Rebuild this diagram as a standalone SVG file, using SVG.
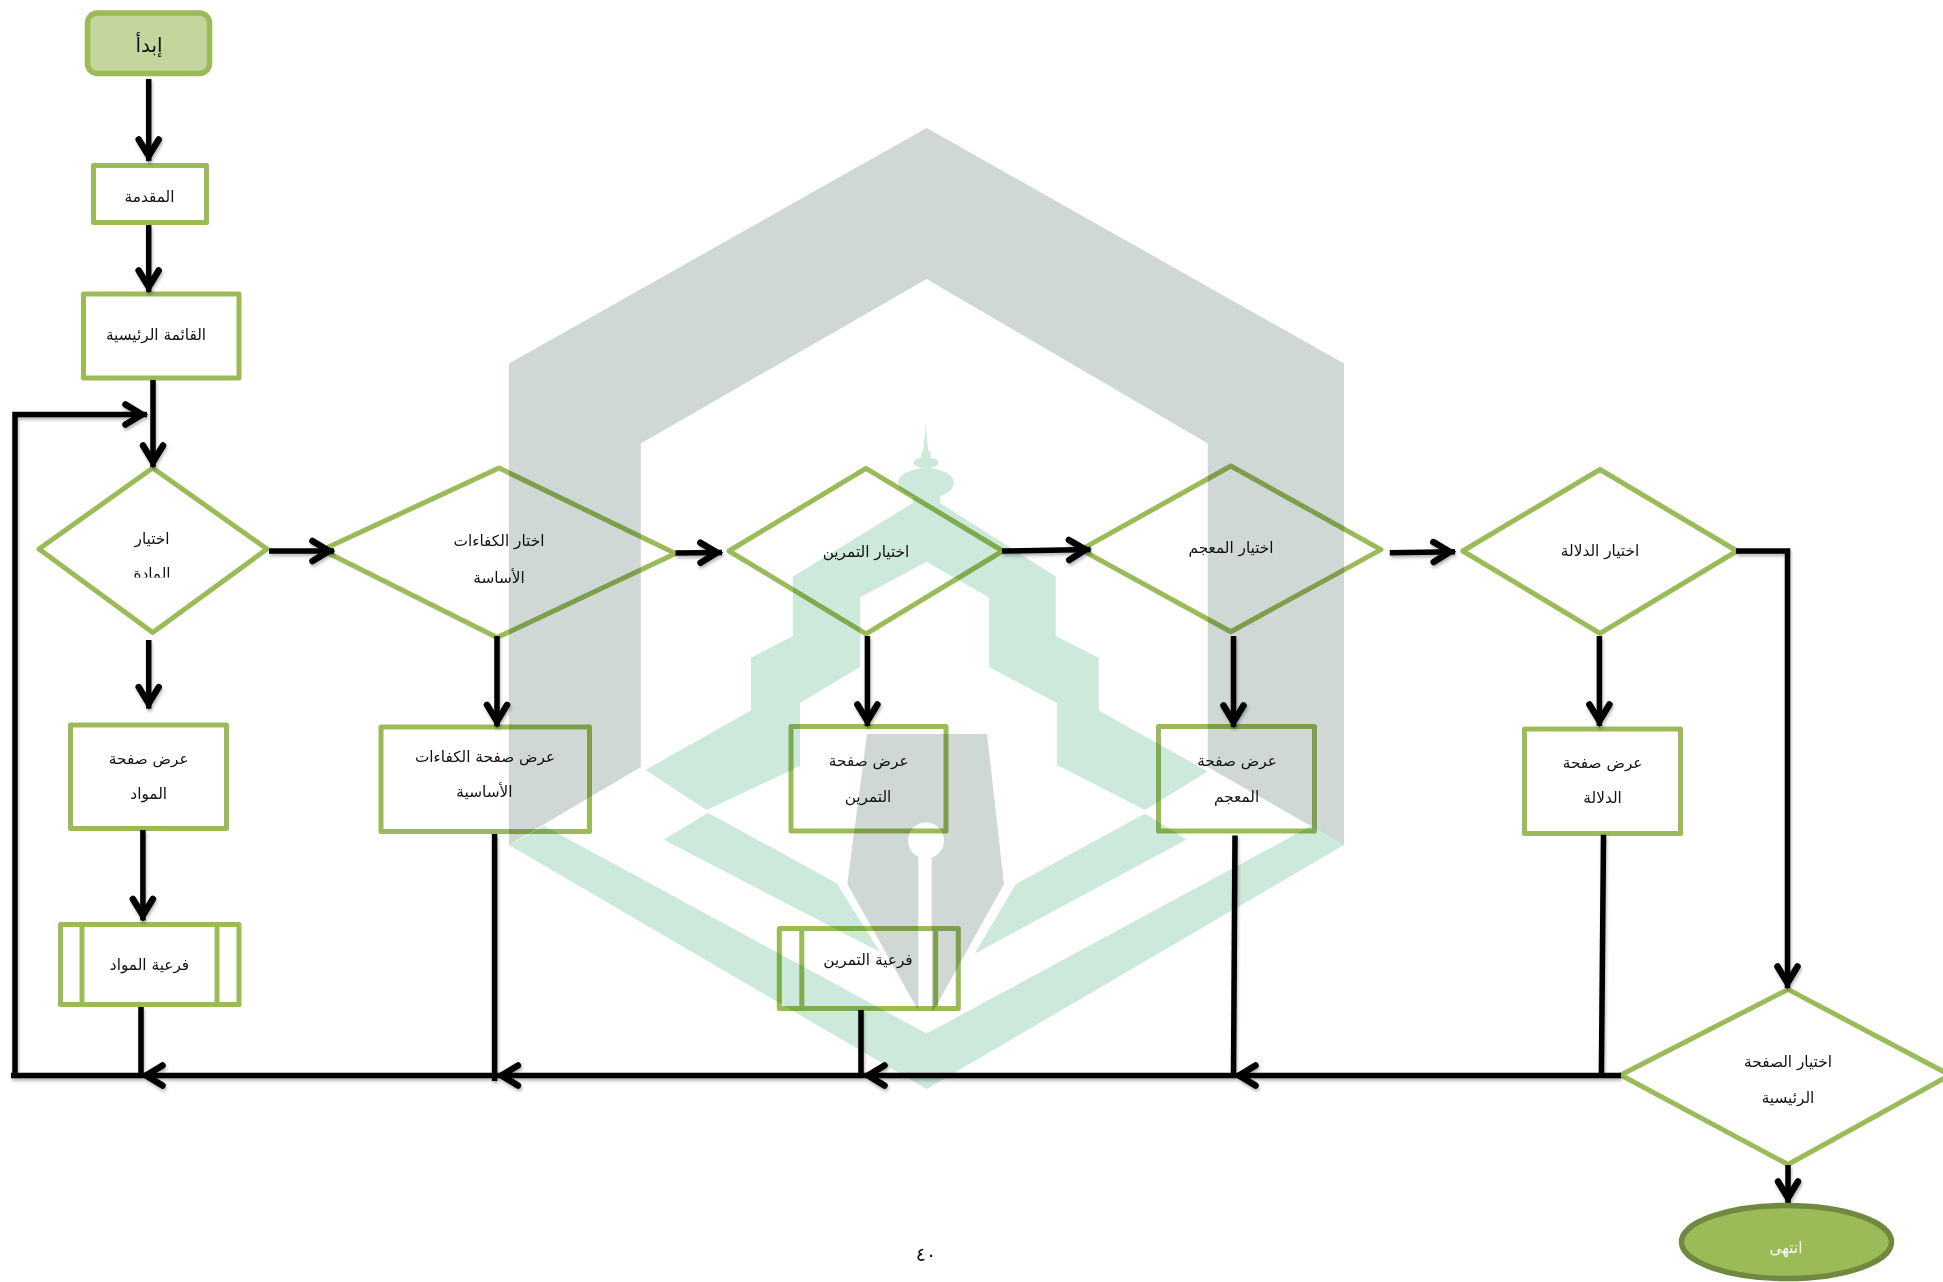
<svg xmlns="http://www.w3.org/2000/svg" width="1943" height="1282" viewBox="0 0 1943 1282">
<style>
.s{fill:none;stroke:#9bbb59;stroke-width:5;stroke-linejoin:round}
.node{mix-blend-mode:multiply}
.t{font-family:"DejaVu Sans",sans-serif;font-size:15.3px;fill:#111;text-anchor:middle;dominant-baseline:central}
.c path,.c line,.c polyline{fill:none;stroke:#000;stroke-width:5.500}
.g{fill:#cfd8d5}.e{fill:#cde9db}
</style>
<defs>
<marker id="a" markerUnits="userSpaceOnUse" markerWidth="32" markerHeight="32" refX="5" refY="0" viewBox="-24 -16 32 32" orient="auto" overflow="visible"><path d="M-16.500,-10L0,0L-16.500,10" fill="none" stroke="#000" stroke-width="6.500" stroke-linecap="round" stroke-linejoin="miter"/></marker>
<filter id="sh" x="-5%" y="-5%" width="110%" height="110%"><feDropShadow dx="1" dy="2.500" stdDeviation="1.500" flood-color="#000" flood-opacity=".28"/></filter>
<clipPath id="cl"><rect x="100" y="520" width="110" height="57.500"/></clipPath>
</defs>
<rect width="1943" height="1282" fill="#fff"/>
<g id="logo">
<path class="e" d="M509,845L926.600,1089L1344,845L1311,826L926.600,1033.600L544,826Z"/>
<path class="g" d="M509,363.500L926.600,128L1344,363.500V845L1207.800,767V443.500L926.600,279L640.800,443.500V767L509,845Z"/>
<path class="e" d="M913,503L793,576.600V636L750.900,657.800V710.400L645.300,770L706.700,810L800,766V703L860,667V597.600L926.500,561.800L989,597.600V667L1057,703V765L1145,810L1207.600,771.400L1098.700,710.400V657.800L1055.700,636V576.600L940,503V490H913Z"/>
<ellipse class="e" cx="926" cy="483" rx="28" ry="15"/>
<ellipse class="e" cx="926" cy="462.700" rx="12.500" ry="5.500"/>
<circle class="e" cx="926" cy="455" r="5"/>
<path class="e" d="M925.700,425L922.500,459H929Z"/>
<path class="e" d="M663.700,839.700L708,812.700L836.700,883.300L880,952Z"/>
<path class="e" d="M1186.600,839.600L1145,813.500L1016,884L974.500,953.700Z"/>
<path class="g" d="M867,734H987L1004,884L934,1010H918L847.300,884Z"/>
<path fill="#fff" d="M918.300,850H931.700V1012H918.300Z"/>
<circle cx="926" cy="840.500" r="18" fill="#fff"/>
</g>
<g id="connectors" class="c node" filter="url(#sh)">
<line x1="148.700" y1="79" x2="148.700" y2="161" marker-end="url(#a)"/>
<line x1="148.700" y1="225" x2="148.700" y2="292" marker-end="url(#a)"/>
<line x1="153" y1="380" x2="153" y2="467" marker-end="url(#a)"/>
<polyline points="15,1075.500 15,414.500 147,414.500" marker-end="url(#a)"/>
<line x1="148.700" y1="640" x2="148.700" y2="708.600" marker-end="url(#a)"/>
<line x1="142.900" y1="830" x2="142.900" y2="920.500" marker-end="url(#a)"/>
<line x1="141" y1="1007" x2="141" y2="1075.500"/>
<line x1="269" y1="551" x2="334" y2="551" marker-end="url(#a)"/>
<line x1="675.500" y1="553" x2="722" y2="552.600" marker-end="url(#a)"/>
<line x1="1002" y1="551" x2="1090.600" y2="549.600" marker-end="url(#a)"/>
<line x1="1389.800" y1="552.800" x2="1455" y2="551.700" marker-end="url(#a)"/>
<line x1="497" y1="636" x2="497" y2="726.400" marker-end="url(#a)"/>
<line x1="867.400" y1="636" x2="867.400" y2="726" marker-end="url(#a)"/>
<line x1="1233.500" y1="636" x2="1233.500" y2="727" marker-end="url(#a)"/>
<line x1="1599.400" y1="636" x2="1599.400" y2="726" marker-end="url(#a)"/>
<line x1="494.600" y1="834" x2="494.600" y2="1081"/>
<line x1="861" y1="1010" x2="861" y2="1075.500"/>
<line x1="1235" y1="835.400" x2="1233.500" y2="1075.500"/>
<line x1="1603.500" y1="834.700" x2="1601.400" y2="1075.500"/>
<polyline points="1736,551 1787.500,551 1787.500,988" marker-end="url(#a)"/>
<line x1="1788" y1="1165" x2="1788" y2="1203" marker-end="url(#a)"/>
<line x1="1621" y1="1075.500" x2="1234" y2="1075.500" marker-end="url(#a)"/>
<line x1="1234" y1="1075.500" x2="863" y2="1075.500" marker-end="url(#a)"/>
<line x1="863" y1="1075.500" x2="496.500" y2="1075.500" marker-end="url(#a)"/>
<line x1="496.500" y1="1075.500" x2="141" y2="1075.500" marker-end="url(#a)"/>
<line x1="141" y1="1075.500" x2="11" y2="1075.500"/>
</g>
<g id="start" class="node"><rect x="87.500" y="13" width="122" height="60.500" rx="10" fill="#c3d69b" stroke="#9bbb59" stroke-width="5.500"/><text class="t" x="149" y="45" style="font-size:20px">إبدأ</text></g>
<g id="intro" class="node"><rect class="s" x="93.500" y="165.500" width="113" height="57"/><text class="t" x="149.500" y="196.500">المقدمة</text></g>
<g id="menu" class="node"><rect class="s" x="83.500" y="294" width="155.500" height="84"/><text class="t" x="156" y="335">القائمة الرئيسية</text></g>
<g id="choose-material" class="node"><path class="s" d="M152.700,468L267,549L152.700,632.600L39,549Z"/><text class="t" x="152" y="539">اختيار</text><text class="t" x="152" y="574" clip-path="url(#cl)">المادة</text></g>
<g id="choose-competency" class="node"><path class="s" d="M499,468L675.500,553.500L497,637.600L322,550Z"/><text class="t" x="499" y="541">اختار الكفاءات</text><text class="t" x="499" y="577.500">الأساسة</text></g>
<g id="choose-exercise" class="node"><path class="s" d="M866,468.400L1002.700,551L866,633.800L729,551Z"/><text class="t" x="866" y="551.700">اختيار التمرين</text></g>
<g id="choose-dictionary" class="node"><path class="s" d="M1230.800,466L1381,549.600L1230.800,631.700L1081,549.600Z"/><text class="t" x="1231" y="548">اختيار المعجم</text></g>
<g id="choose-semantics" class="node"><path class="s" d="M1600,469.500L1737,551L1600,633.300L1462.800,551Z"/><text class="t" x="1600" y="551">اختيار الدلالة</text></g>
<g id="show-material" class="node"><rect class="s" x="70.500" y="725" width="156" height="103.500"/><text class="t" x="148.700" y="759">عرض صفحة</text><text class="t" x="148.700" y="794">المواد</text></g>
<g id="show-competency" class="node"><rect class="s" x="381" y="727" width="208.500" height="104.500"/><text class="t" x="485" y="757">عرض صفحة الكفاءات</text><text class="t" x="484.400" y="792">الأساسية</text></g>
<g id="show-exercise" class="node"><rect class="s" x="791" y="726.500" width="155" height="104.500"/><text class="t" x="868.700" y="761">عرض صفحة</text><text class="t" x="868" y="796.700">التمرين</text></g>
<g id="show-dictionary" class="node"><rect class="s" x="1158.500" y="726.500" width="156" height="104.500"/><text class="t" x="1237" y="761">عرض صفحة</text><text class="t" x="1236.600" y="796.700">المعجم</text></g>
<g id="show-semantics" class="node"><rect class="s" x="1524.500" y="729" width="156" height="104.500"/><text class="t" x="1602.600" y="763">عرض صفحة</text><text class="t" x="1602.600" y="798">الدلالة</text></g>
<g id="sub-material" class="node"><rect class="s" x="60.500" y="924.500" width="178.500" height="80"/><path class="s" d="M82,924.500V1004.500M217,924.500V1004.500"/><text class="t" x="149.500" y="965.300">فرعية المواد</text></g>
<g id="sub-exercise" class="node"><rect class="s" x="779.300" y="928.500" width="179" height="80"/><path class="s" d="M801.800,928.500V1008.500M935.700,928.500V1008.500"/><text class="t" x="868" y="959.600">فرعية التمرين</text></g>
<g id="choose-home" class="node"><path class="s" d="M1788,989.400L1950,1075L1788,1164.500L1620.700,1075Z"/><text class="t" x="1788" y="1062">اختيار الصفحة</text><text class="t" x="1788" y="1098.400">الرئيسية</text></g>
<g id="end"><ellipse cx="1786.500" cy="1242" rx="105" ry="36.500" fill="#9bbb59" stroke="#71893f" stroke-width="5.500"/><text class="t" x="1786" y="1248" style="fill:#fff">انتهى</text></g>
<text class="t" x="926" y="1254" style="font-size:19px;letter-spacing:4px">٤٠</text>
</svg>
